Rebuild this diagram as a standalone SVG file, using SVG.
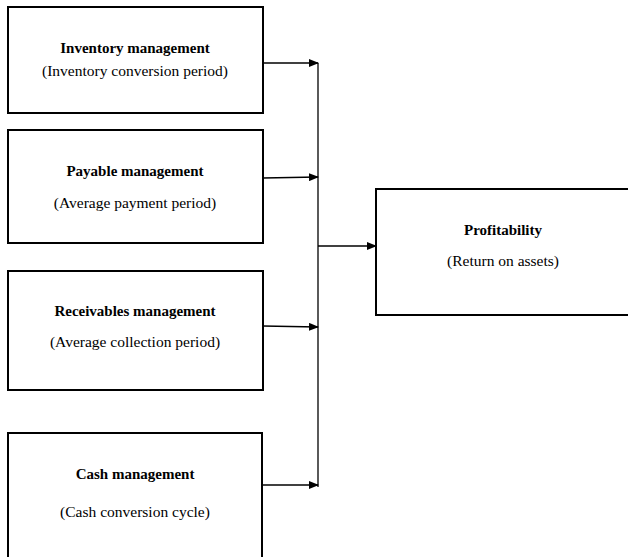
<svg xmlns="http://www.w3.org/2000/svg" width="628" height="557" viewBox="0 0 628 557">
<defs>
<style>
.box{fill:#fff;stroke:#000;stroke-width:2}
.t{font-family:"Liberation Serif","Times New Roman",serif;font-size:15.5px;text-anchor:middle;fill:#000}
.b{font-weight:bold;font-size:15px}
.c{stroke:#000;stroke-width:1.3;fill:none}
</style>
<marker id="ah" markerWidth="10" markerHeight="8" refX="9" refY="4" orient="auto" markerUnits="userSpaceOnUse">
<path d="M0,0 L10,4 L0,8 z" fill="#000"/>
</marker>
</defs>
<rect width="628" height="557" fill="#fff"/>
<g id="inventory">
<rect class="box" x="8" y="7" width="255" height="106"/>
<text class="t b" x="135" y="53">Inventory management</text>
<text class="t" x="135" y="76">(Inventory conversion period)</text>
</g>
<g id="payable">
<rect class="box" x="8" y="130" width="255" height="113"/>
<text class="t b" x="135" y="176">Payable management</text>
<text class="t" x="135" y="208">(Average payment period)</text>
</g>
<g id="receivables">
<rect class="box" x="8" y="271" width="255" height="119"/>
<text class="t b" x="135" y="316">Receivables management</text>
<text class="t" x="135" y="347">(Average collection period)</text>
</g>
<g id="cash">
<rect class="box" x="8" y="433" width="254" height="130"/>
<text class="t b" x="135" y="479">Cash management</text>
<text class="t" x="135" y="517">(Cash conversion cycle)</text>
</g>
<g id="profitability">
<rect class="box" x="376" y="189" width="260" height="126"/>
<text class="t b" x="503" y="235">Profitability</text>
<text class="t" x="503" y="266">(Return on assets)</text>
</g>
<g id="connectors">
<line class="c" x1="318" y1="63" x2="318" y2="487"/>
<line class="c" x1="263" y1="63" x2="318" y2="63" marker-end="url(#ah)"/>
<line class="c" x1="263" y1="178" x2="318" y2="177" marker-end="url(#ah)"/>
<line class="c" x1="263" y1="326" x2="318" y2="327" marker-end="url(#ah)"/>
<line class="c" x1="262" y1="485" x2="318" y2="485" marker-end="url(#ah)"/>
<line class="c" x1="318" y1="246" x2="376" y2="246" marker-end="url(#ah)"/>
</g>
</svg>
